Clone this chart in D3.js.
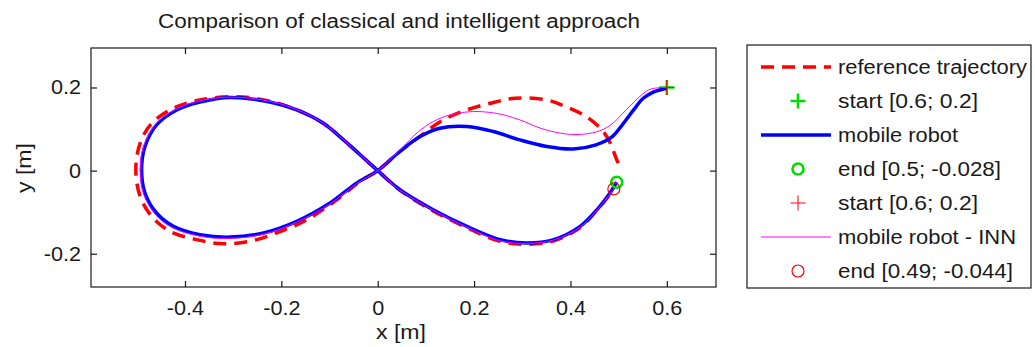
<!DOCTYPE html>
<html>
<head>
<meta charset="utf-8">
<script src="https://cdn.jsdelivr.net/npm/d3@7"></script>
<style>
  body { margin: 0; background: #fff; }
  svg { display: block; }
  text { font-family: "Liberation Sans", Arial, sans-serif; fill: #1a1a1a; }
</style>
</head>
<body>
<div class="chart"></div>
<script>
// data (x [m], y [m])
const referenceTrajectory = [
  [0.499, 0.018], [0.492, 0.038], [0.486, 0.058], [0.468, 0.094], [0.434, 0.129],
  [0.392, 0.153], [0.351, 0.170], [0.285, 0.174], [0.233, 0.162], [0.185, 0.146],
  [0.136, 0.122], [0.088, 0.083], [0.046, 0.046], [0, 0],
  [-0.037, -0.026], [-0.085, -0.070], [-0.147, -0.118], [-0.210, -0.150], [-0.265, -0.170],
  [-0.321, -0.176], [-0.376, -0.166], [-0.431, -0.146], [-0.469, -0.110], [-0.493, -0.062],
  [-0.502, 0.002], [-0.493, 0.066], [-0.469, 0.114], [-0.424, 0.150], [-0.369, 0.170],
  [-0.293, 0.178], [-0.224, 0.167], [-0.168, 0.146], [-0.113, 0.114], [-0.071, 0.074],
  [0, 0],
  [0.046, -0.047], [0.115, -0.097], [0.185, -0.137], [0.254, -0.170], [0.309, -0.177],
  [0.365, -0.169], [0.420, -0.137], [0.457, -0.092], [0.478, -0.063], [0.486, -0.049]
];

const robotPath = [
  [0.600, 0.198], [0.572, 0.189], [0.551, 0.174], [0.531, 0.146], [0.510, 0.114],
  [0.486, 0.081], [0.453, 0.062], [0.406, 0.052], [0.351, 0.058], [0.295, 0.074],
  [0.240, 0.094], [0.185, 0.106], [0.129, 0.102], [0.088, 0.082], [0.046, 0.046],
  [0, 0],
  [-0.044, -0.030], [-0.099, -0.078], [-0.168, -0.122], [-0.237, -0.150], [-0.307, -0.160],
  [-0.369, -0.154], [-0.424, -0.134], [-0.459, -0.102], [-0.483, -0.054], [-0.490, 0.002],
  [-0.483, 0.058], [-0.459, 0.110], [-0.417, 0.146], [-0.369, 0.165], [-0.307, 0.176],
  [-0.224, 0.165], [-0.168, 0.146], [-0.113, 0.114], [-0.071, 0.074],
  [0, 0],
  [0.046, -0.046], [0.115, -0.094], [0.185, -0.134], [0.254, -0.166], [0.309, -0.174],
  [0.365, -0.166], [0.420, -0.134], [0.461, -0.086], [0.482, -0.054], [0.496, -0.028]
];

const robotInnPath = [
  [0.600, 0.200], [0.569, 0.197], [0.555, 0.189], [0.532, 0.165], [0.507, 0.136],
  [0.486, 0.112], [0.461, 0.096], [0.430, 0.088], [0.392, 0.088], [0.343, 0.100],
  [0.295, 0.122], [0.254, 0.136], [0.212, 0.142], [0.185, 0.141], [0.150, 0.134],
  [0.115, 0.118], [0.084, 0.093], [0.046, 0.050],
  [0, 0],
  [-0.043, -0.031], [-0.099, -0.080], [-0.168, -0.124], [-0.237, -0.153], [-0.307, -0.163],
  [-0.369, -0.158], [-0.427, -0.137], [-0.462, -0.105], [-0.486, -0.056], [-0.493, 0.002],
  [-0.486, 0.059], [-0.461, 0.112], [-0.419, 0.148], [-0.369, 0.168], [-0.307, 0.177],
  [-0.224, 0.167], [-0.168, 0.147], [-0.113, 0.114], [-0.071, 0.074],
  [0, 0],
  [0.046, -0.047], [0.115, -0.095], [0.185, -0.136], [0.254, -0.169], [0.309, -0.175],
  [0.365, -0.167], [0.420, -0.136], [0.457, -0.092], [0.476, -0.065], [0.490, -0.044]
];

const startPoint = [0.6, 0.2];
const robotEnd = [0.496, -0.028];
const robotInnEnd = [0.49, -0.044];

const xTicks = [-0.4, -0.2, 0, 0.2, 0.4, 0.6];
const yTicks = [-0.2, 0, 0.2];
const xDomain = [-0.595, 0.702];
const yDomain = [-0.28, 0.295];

const legendLabels = [
  "reference trajectory", "start [0.6; 0.2]", "mobile robot", "end [0.5; -0.028]",
  "start [0.6; 0.2]", "mobile robot - INN", "end [0.49; -0.044]"
];
const legendWidths = [189, 140, 120, 163, 140, 178, 175];

// layout
const W = 1035, H = 347;
const plot = { left: 91, right: 716, top: 48, bottom: 287 };
const fontSize = 20;

const red = "#ff0000", blue = "#0000ff", magenta = "#ff00ff", green = "#00dd00";

const svg = d3.select(".chart")
  .append("svg")
  .attr("width", W)
  .attr("height", H);

const x = d3.scaleLinear().domain(xDomain).range([plot.left, plot.right]);
const y = d3.scaleLinear().domain(yDomain).range([plot.bottom, plot.top]);

/* AXES */
const fmt = d => String(d);

svg.append("g")
  .attr("class", "x_axis")
  .attr("transform", "translate(0," + plot.bottom + ")")
  .call(d3.axisBottom(x).tickValues(xTicks).tickFormat(fmt).tickSizeInner(-6).tickSizeOuter(0).tickPadding(14));

svg.append("g")
  .attr("transform", "translate(0," + plot.top + ")")
  .call(d3.axisTop(x).tickValues(xTicks).tickFormat("").tickSizeInner(-6).tickSizeOuter(0));

svg.append("g")
  .attr("class", "y_axis")
  .attr("transform", "translate(" + plot.left + ",0)")
  .call(d3.axisLeft(y).tickValues(yTicks).tickFormat(fmt).tickSizeInner(-6).tickSizeOuter(0).tickPadding(10));

svg.append("g")
  .attr("transform", "translate(" + plot.right + ",0)")
  .call(d3.axisRight(y).tickValues(yTicks).tickFormat("").tickSizeInner(-6).tickSizeOuter(0));

svg.selectAll(".domain").remove();
svg.selectAll(".tick line").attr("stroke", "#1a1a1a").attr("stroke-width", 1.2);
svg.selectAll(".tick text")
  .attr("font-size", fontSize)
  .attr("font-family", "Liberation Sans, Arial, sans-serif")
  .attr("fill", "#1a1a1a");

// box round the plot
svg.append("rect")
  .attr("x", plot.left)
  .attr("y", plot.top)
  .attr("width", plot.right - plot.left)
  .attr("height", plot.bottom - plot.top)
  .attr("fill", "none")
  .attr("stroke", "#1a1a1a")
  .attr("stroke-width", 1.2);

/* LINES AND MARKERS */
const line = d3.line()
  .x(d => x(d[0]))
  .y(d => y(d[1]))
  .curve(d3.curveCatmullRom.alpha(0.5));

const plotArea = svg.append("g");

function plus(g, cx, cy, color, w) {
  g.append("path")
    .attr("d", "M" + (cx - 7.5) + "," + cy + "H" + (cx + 7.5) + "M" + cx + "," + (cy - 7.5) + "V" + (cy + 7.5))
    .attr("stroke", color)
    .attr("stroke-width", w)
    .attr("fill", "none");
}

function ring(g, cx, cy, r, color, w) {
  g.append("circle")
    .attr("cx", cx)
    .attr("cy", cy)
    .attr("r", r)
    .attr("stroke", color)
    .attr("stroke-width", w)
    .attr("fill", "none");
}

plotArea.append("path")
  .datum(referenceTrajectory)
  .attr("d", line)
  .attr("fill", "none")
  .attr("stroke", red)
  .attr("stroke-width", 3.5)
  .attr("stroke-dasharray", "13,8");

plus(plotArea, x(startPoint[0]), y(startPoint[1]), green, 2.6);

plotArea.append("path")
  .datum(robotPath)
  .attr("d", line)
  .attr("fill", "none")
  .attr("stroke", blue)
  .attr("stroke-width", 3.5);

ring(plotArea, x(robotEnd[0]), y(robotEnd[1]), 5.5, green, 2.6);

plus(plotArea, x(startPoint[0]), y(startPoint[1]), red, 1);

plotArea.append("path")
  .datum(robotInnPath)
  .attr("d", line)
  .attr("fill", "none")
  .attr("stroke", magenta)
  .attr("stroke-width", 1);

ring(plotArea, x(robotInnEnd[0]), y(robotInnEnd[1]), 6, red, 1.2);

/* TEXTS */
svg.append("text")
  .attr("x", 399)
  .attr("y", 28)
  .attr("text-anchor", "middle")
  .attr("font-size", fontSize)
  .attr("textLength", 482)
  .attr("lengthAdjust", "spacingAndGlyphs")
  .text("Comparison of classical and intelligent approach");

svg.append("text")
  .attr("x", 401)
  .attr("y", 339)
  .attr("text-anchor", "middle")
  .attr("font-size", fontSize)
  .attr("textLength", 50)
  .attr("lengthAdjust", "spacingAndGlyphs")
  .text("x [m]");

svg.append("text")
  .attr("transform", "translate(31,168) rotate(-90)")
  .attr("text-anchor", "middle")
  .attr("font-size", fontSize)
  .attr("textLength", 50)
  .attr("lengthAdjust", "spacingAndGlyphs")
  .text("y [m]");

// stretch the tick labels a little, like the original font
svg.selectAll(".tick text").each(function() {
  const len = this.getComputedTextLength();
  if (len > 0) {
    d3.select(this).attr("textLength", len * 1.08).attr("lengthAdjust", "spacingAndGlyphs");
  }
});

/* LEGEND */
const legend = svg.append("g").attr("class", "legend");

legend.append("rect")
  .attr("x", 747)
  .attr("y", 45)
  .attr("width", 284)
  .attr("height", 243)
  .attr("fill", "#fff")
  .attr("stroke", "#1a1a1a")
  .attr("stroke-width", 1.2);

const rowY = i => 67 + 34 * i;
const sampleX1 = 761, sampleX2 = 831, markX = 798, textX = 838;

legend.append("line")
  .attr("x1", sampleX1).attr("x2", sampleX2)
  .attr("y1", rowY(0)).attr("y2", rowY(0))
  .attr("stroke", red).attr("stroke-width", 3.5)
  .attr("stroke-dasharray", "13,8");

plus(legend, markX, rowY(1), green, 2.6);

legend.append("line")
  .attr("x1", sampleX1).attr("x2", sampleX2)
  .attr("y1", rowY(2)).attr("y2", rowY(2))
  .attr("stroke", blue).attr("stroke-width", 3.5);

ring(legend, markX, rowY(3), 5.5, green, 2.6);

plus(legend, markX, rowY(4), red, 1);

legend.append("line")
  .attr("x1", sampleX1).attr("x2", sampleX2)
  .attr("y1", rowY(5)).attr("y2", rowY(5))
  .attr("stroke", magenta).attr("stroke-width", 1);

ring(legend, markX, rowY(6), 6, red, 1.2);

legend.selectAll("text.label")
  .data(legendLabels)
  .enter()
  .append("text")
  .attr("class", "label")
  .attr("x", textX)
  .attr("y", (d, i) => rowY(i) + 7)
  .attr("font-size", fontSize)
  .attr("textLength", (d, i) => legendWidths[i])
  .attr("lengthAdjust", "spacingAndGlyphs")
  .text(d => d);
</script>
</body>
</html>
